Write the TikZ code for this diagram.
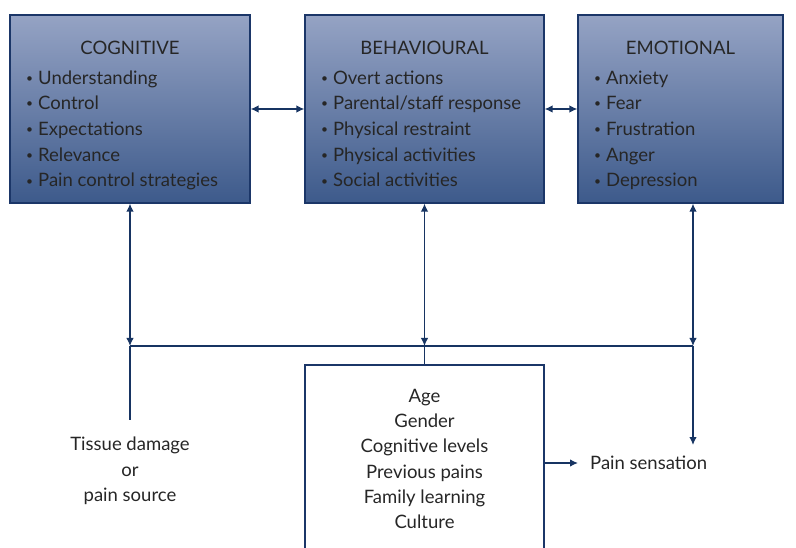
\documentclass[tikz,border=0pt]{standalone}
\usepackage{fontspec}
\setmainfont{Lato}
\usetikzlibrary{arrows.meta,positioning}
\definecolor{boxtop}{HTML}{95A3C4}
\definecolor{boxbot}{HTML}{3D5A8B}
\definecolor{boxline}{HTML}{1B3668}
\definecolor{linkblue}{HTML}{173462}
\definecolor{inktext}{HTML}{262626}
% small bullet for the factor lists
\newcommand{\itm}{\strut{\fontsize{12}{12}\selectfont\raisebox{.32ex}{\textbullet}}\hspace{5pt}}

\begin{document}
\begin{tikzpicture}[x=1pt,y=-1pt,>={Latex[length=8pt,width=7.5pt]},
factor/.style={draw=boxline,line width=1.2pt,top color=boxtop,bottom color=boxbot,minimum height=188,inner sep=0pt},
head/.style={font=\fontsize{18.5}{20}\selectfont,text=inktext,anchor=base},
items/.style={font=\fontsize{18.5}{25.7}\selectfont,text=inktext,align=left,anchor=north west,inner sep=0pt},
plain/.style={font=\fontsize{18.5}{25.3}\selectfont,text=inktext,align=center},
link/.style={draw=linkblue,line width=1.3pt}]
\useasboundingbox (0,0) rectangle (796,548);
% the three factor boxes
\node[factor,minimum width=240] (cog) at (130,109) {};
\node[factor,minimum width=239] (beh) at (424.5,109) {};
\node[factor,minimum width=205] (emo) at (680.5,109) {};
\node[head] at (130,55) {COGNITIVE};
\node[head] at (424.5,55) {BEHAVIOURAL};
\node[head] at (680.5,55) {EMOTIONAL};
\node[items] at (26,66) {\itm Understanding\\ \itm Control\\ \itm Expectations\\ \itm Relevance\\ \itm Pain control strategies};
\node[items] at (321,66) {\itm Overt actions\\ \itm Parental/staff response\\ \itm Physical restraint\\ \itm Physical activities\\ \itm Social activities};
\node[items] at (594,66) {\itm Anxiety\\ \itm Fear\\ \itm Frustration\\ \itm Anger\\ \itm Depression};
% child factors box, open at the bottom
\node[draw=boxline,line width=1.2pt,minimum width=239,minimum height=200] (ctx) at (424.5,465) {};
\node[plain] (ctxtext) at (424.5,459) {Age\\ Gender\\ Cognitive levels\\ Previous pains\\ Family learning\\ Culture};
\node[plain,inner sep=0pt] (src) at (130,471) {Tissue damage\\ or\\ pain source};
\node[plain,anchor=west,inner sep=0pt] (pain) at (590,463) {Pain sensation};
\coordinate (j1) at (130,346);
\coordinate (j2) at (424.5,346);
\coordinate (j3) at (693,346);
% links
\draw[link,<->] (cog.east) -- (beh.west);
\draw[link,<->] (beh.east) -- (emo.west);
\draw[link,<->] (cog.south) -- (j1);
\draw[link,<->] (beh.south) -- (j2);
\draw[link,<->] (j3 |- emo.south) -- (j3);
\draw[link] (j1) -- (j3);
\draw[link] (j2) -- (ctx.north);
\draw[link] (j1) -- (130,420);
\draw[link,->] (j3) -- (693,445);
\draw[link,->] (ctx.east |- pain.west) -- ([xshift=-12]pain.west);
\end{tikzpicture}
\end{document}
